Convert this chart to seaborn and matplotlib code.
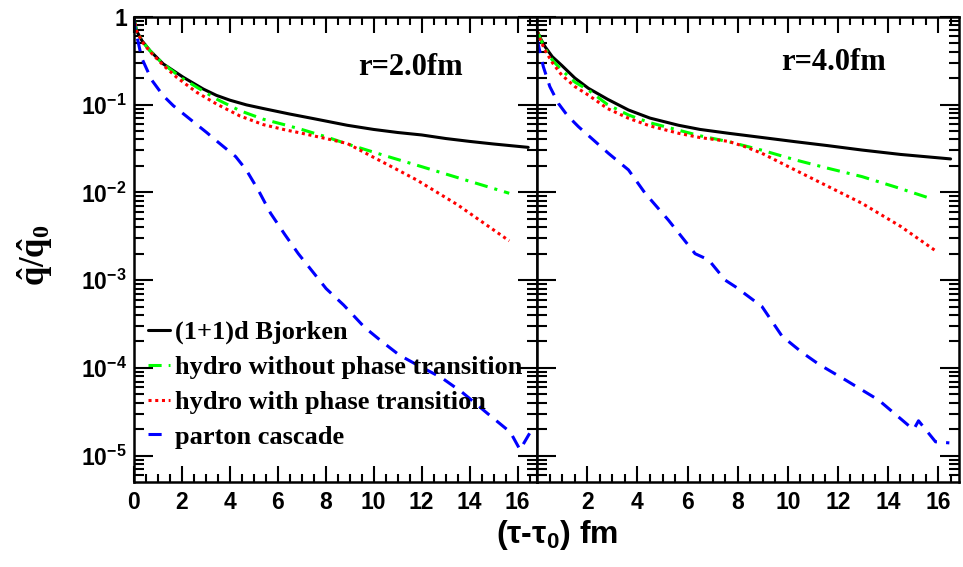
import math

import matplotlib
matplotlib.use("Agg")
import matplotlib.pyplot as plt
import seaborn as sns
from matplotlib.font_manager import FontProperties
from matplotlib.ticker import FixedLocator, LogLocator, MultipleLocator, NullFormatter, FuncFormatter

# r = 2.0 fm panel
BJ_X_R2 = [0.0, 0.12, 0.35, 0.68, 1.23, 2.07, 2.9, 3.45, 4.01, 4.7, 5.4, 6.49, 7.5, 8.9, 10.0, 11.0, 12.0,
           13.0, 14.0, 15.0, 16.44]
BJ_Y_R2 = [1.0, 0.69, 0.53, 0.41, 0.29, 0.204, 0.15, 0.127, 0.112, 0.099, 0.09, 0.078, 0.069, 0.058,
           0.052, 0.048, 0.045, 0.041, 0.038, 0.0355, 0.0325]
NOPT_X_R2 = [0.0, 0.12, 0.35, 0.68, 1.23, 2.0, 2.62, 3.46, 4.43, 5.4, 6.37, 7.0, 8.0, 8.9, 10.5, 12.0,
             13.5, 15.65]
NOPT_Y_R2 = [1.0, 0.69, 0.53, 0.41, 0.29, 0.2, 0.158, 0.115, 0.085, 0.068, 0.058, 0.052, 0.043, 0.0355,
             0.026, 0.0196, 0.0147, 0.00975]
PT_X_R2 = [0.0, 0.12, 0.35, 0.68, 1.23, 1.79, 2.62, 3.46, 4.43, 5.4, 6.37, 6.86, 8.0, 8.9, 10.0, 11.0,
           11.8, 13.5, 15.65]
PT_Y_R2 = [1.0, 0.69, 0.52, 0.4, 0.28, 0.204, 0.138, 0.101, 0.074, 0.059, 0.051, 0.048, 0.041, 0.036,
           0.025, 0.018, 0.0138, 0.0072, 0.0028]
PC_X_R2 = [0.0, 0.05, 0.33, 0.75, 1.23, 1.65, 2.35, 3.04, 3.53, 4.25, 4.69, 5.2, 5.7, 6.3, 6.86, 8.02,
           8.75, 9.62, 10.34, 11.07, 11.9, 12.81, 13.68, 14.7, 15.7, 16.1, 16.5]
PC_Y_R2 = [1.0, 0.76, 0.34, 0.19, 0.126, 0.097, 0.068, 0.048, 0.037, 0.0255, 0.018, 0.0105, 0.0058,
           0.0033, 0.002, 8.0e-4, 5.2e-4, 2.9e-4, 2.0e-4, 1.4e-4, 1.05e-4, 7.8e-5, 5.3e-5, 3.1e-5,
           1.85e-5, 1.17e-5, 1.8e-5]

# r = 4.0 fm panel
BJ_X_R4 = [0.0, 0.15, 0.31, 0.6, 0.97, 1.5, 2.04, 2.8, 3.64, 4.5, 5.64, 6.5, 7.64, 9.0, 10.3, 11.6, 12.96,
           14.5, 16.5]
BJ_Y_R4 = [0.68, 0.55, 0.455, 0.35, 0.28, 0.2, 0.153, 0.115, 0.0866, 0.07, 0.058, 0.052, 0.047, 0.042,
           0.0377, 0.034, 0.0303, 0.027, 0.024]
NOPT_X_R4 = [0.0, 0.15, 0.3, 0.6, 0.97, 1.5, 2.04, 2.8, 3.64, 4.5, 5.64, 6.5, 7.64, 9.0, 10.3, 11.6, 12.96,
             14.3, 15.56]
NOPT_Y_R4 = [0.68, 0.54, 0.44, 0.32, 0.247, 0.18, 0.146, 0.1, 0.076, 0.062, 0.051, 0.044, 0.0377, 0.03,
             0.0234, 0.0188, 0.0151, 0.0115, 0.00877]
PT_X_R4 = [0.0, 0.15, 0.3, 0.6, 0.97, 1.5, 2.04, 2.8, 3.64, 4.5, 5.64, 6.5, 7.64, 8.3, 8.97, 10.3, 11.6,
           12.96, 14.5, 15.96]
PT_Y_R4 = [0.68, 0.52, 0.42, 0.3, 0.217, 0.16, 0.128, 0.09, 0.0697, 0.057, 0.047, 0.042, 0.038, 0.033,
           0.0278, 0.0179, 0.0117, 0.0075, 0.0041, 0.0021]
PC_X_R4 = [0.0, 0.24, 0.5, 0.84, 1.2, 1.64, 2.84, 3.64, 4.3, 5.24, 6.3, 6.84, 7.5, 7.91, 8.97, 9.77, 10.57,
           11.24, 12.3, 13.63, 14.83, 15.03, 15.22, 15.9, 16.45]
PC_Y_R4 = [0.54, 0.27, 0.16, 0.103, 0.075, 0.056, 0.0278, 0.018, 0.0098, 0.0048, 0.002, 1.7e-3, 1.0e-3,
           8.4e-4, 5.0e-4, 2.3e-4, 1.5e-4, 1.1e-4, 7.3e-5, 4.3e-5, 2.2e-5, 2.0e-5, 2.5e-5, 1.44e-5, 1.4e-5]

LABELS = ["(1+1)d Bjorken", "hydro without phase transition", "hydro with phase transition", "parton cascade"]
COLORS = ["#000000", "#00ff00", "#ff0000", "#0000ff"]
DASHES = [None, (4.3, 2.3, 1.0, 2.3), (1.0, 1.2), (4.3, 3.0)]
PANEL_TEXT = ["r=2.0fm", "r=4.0fm"]
Y_TICKS = [1e-5, 1e-4, 1e-3, 1e-2, 1e-1, 1.0]
X_TICKS = [0, 2, 4, 6, 8, 10, 12, 14, 16]

sns.set_theme(style="ticks")
plt.rcParams["font.family"] = ["Liberation Sans", "DejaVu Sans"]
plt.rcParams["font.weight"] = "bold"
plt.rcParams["text.color"] = "black"
plt.rcParams["axes.labelcolor"] = "black"
plt.rcParams["xtick.color"] = "black"
plt.rcParams["ytick.color"] = "black"
plt.rcParams["mathtext.fontset"] = "custom"
plt.rcParams["mathtext.rm"] = "Liberation Serif:bold"
plt.rcParams["mathtext.it"] = "Liberation Serif:bold"
plt.rcParams["mathtext.bf"] = "Liberation Sans:bold"

W, H = 963, 567
fig = plt.figure(figsize=(W / 100, H / 100), dpi=100)
bottom = (H - 481.7) / H
height = 465 / H
ax1 = fig.add_axes([133.7 / W, bottom, 403.6 / W, height])
ax2 = fig.add_axes([537.3 / W, bottom, 421.3 / W, height])

panels = [
    (ax1, [(BJ_X_R2, BJ_Y_R2), (NOPT_X_R2, NOPT_Y_R2), (PT_X_R2, PT_Y_R2), (PC_X_R2, PC_Y_R2)]),
    (ax2, [(BJ_X_R4, BJ_Y_R4), (NOPT_X_R4, NOPT_Y_R4), (PT_X_R4, PT_Y_R4), (PC_X_R4, PC_Y_R4)]),
]


def ytick_label(v, pos):
    if v >= 1:
        return "1"
    return r"$\mathdefault{10^{%d}}$" % round(math.log10(v))


for i, (ax, series) in enumerate(panels):
    for (xs, ys), label, color, dash in zip(series, LABELS, COLORS, DASHES):
        sns.lineplot(x=xs, y=ys, ax=ax, color=color, lw=2.2, label=label if i == 0 else None,
                     estimator=None, sort=False)
        line = ax.get_lines()[-1]
        if dash is not None:
            line.set_dashes(dash)
    ax.set_yscale("log")
    ax.set_xlim(0, 16.82)
    ax.set_ylim(5.06e-6, 1.0)
    ax.set_xlabel("")
    ax.set_ylabel("")

    ax.yaxis.set_major_locator(FixedLocator(Y_TICKS))
    ax.yaxis.set_minor_locator(LogLocator(base=10, subs=range(2, 10), numticks=20))
    ax.yaxis.set_minor_formatter(NullFormatter())
    ax.xaxis.set_major_locator(FixedLocator(X_TICKS))
    ax.xaxis.set_minor_locator(MultipleLocator(0.5))

    ax.tick_params(which="both", direction="in", top=True, right=True, width=1.5,
                   labelsize=16.5, colors="black")
    ax.tick_params(axis="x", which="major", length=11.5, pad=7)
    ax.tick_params(axis="x", which="minor", length=6)
    ax.tick_params(axis="y", which="major", length=14, pad=5)
    ax.tick_params(axis="y", which="minor", length=7)
    for sp in ax.spines.values():
        sp.set_linewidth(1.8)
        sp.set_color("black")
        sp.set_visible(True)

    ax.text([0.5565, 0.5777][i], [0.8746, 0.885][i], PANEL_TEXT[i], transform=ax.transAxes,
            fontsize=22, fontweight="bold", family=["Liberation Serif"], va="baseline", ha="left")

ax1.yaxis.set_major_formatter(FuncFormatter(ytick_label))
ax2.tick_params(axis="y", labelleft=False)
ax1.set_xticklabels([str(t) for t in X_TICKS])
ax2.set_xticklabels([""] + [str(t) for t in X_TICKS[1:]])
for lab in ax1.get_xticklabels() + ax2.get_xticklabels() + ax1.get_yticklabels():
    lab.set_fontweight("bold")

ax1.legend(loc="upper left", bbox_to_anchor=(0.036, 0.347), frameon=False, borderpad=0,
           borderaxespad=0, handlelength=0.83, handletextpad=0.2, labelspacing=0.43,
           prop=FontProperties(family="Liberation Serif", weight="bold", size=19))

fig.text(557 / W, 1 - 543.3 / H, r"($\mathdefault{\tau}$-$\mathdefault{\tau_{0}}$) fm",
         ha="center", va="baseline", fontsize=23, fontweight="bold")
fig.text(35 / W, 1 - 255 / H, r"$\hat{q}/\hat{q}_{0}$", rotation=90,
         ha="center", va="center", fontsize=25)

fig.savefig("out.png", dpi=100)
